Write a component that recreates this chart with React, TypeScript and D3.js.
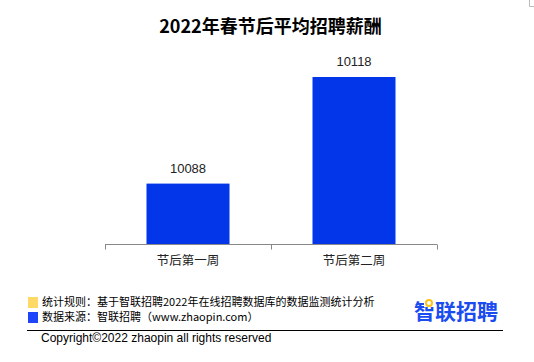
import React from 'react';
import * as d3 from 'd3';

const categories = ['节后第一周', '节后第二周'];
const salaries = [10088, 10118];

const title = '2022年春节后平均招聘薪酬';
const notes = [
  '统计规则：基于智联招聘2022年在线招聘数据库的数据监测统计分析',
  '数据来源：智联招聘（www.zhaopin.com）',
];
const copyright = 'Copyright©2022 zhaopin all rights reserved';

const W = 534;
const H = 362;
const cjk = '"Noto Sans CJK SC", "Noto Sans", sans-serif';
const latin = '"Liberation Sans", Arial, sans-serif';

const App: React.FC = () => {
  const x = d3.scaleBand<string>()
    .domain(categories)
    .range([105, 437])
    .paddingInner(0.5)
    .paddingOuter(0.25);

  // value axis does not start at zero
  const y = d3.scaleLinear()
    .domain([10071, 10118])
    .range([244, 77]);

  const axisY = 244.5;
  const tickXs = [105, 105 + x.step(), 437];

  return (
    <svg width={W} height={H} style={{ position: 'absolute', left: 0, top: 0, background: '#fff' }}>
      {/* corner mark */}
      <path d="M529.5,0 V6.5 H534" fill="none" stroke="#bbb" strokeWidth={1} />

      <text x={270.5} y={33} textAnchor="middle" fontFamily={cjk} fontWeight="bold" fontSize={18} fill="#000">
        {title}
      </text>

      {/* bars */}
      {categories.map((c, i) => (
        <g key={c}>
          <rect
            x={x(c)!}
            y={y(salaries[i])}
            width={x.bandwidth()}
            height={axisY - 0.5 - y(salaries[i])}
            fill="#0336e8"
          />
          <text
            x={x(c)! + x.bandwidth() / 2}
            y={y(salaries[i]) - 11}
            textAnchor="middle"
            fontFamily={latin}
            fontSize={13}
            fill="#222"
          >
            {salaries[i]}
          </text>
          <text
            x={x(c)! + x.bandwidth() / 2}
            y={265}
            textAnchor="middle"
            fontFamily={cjk}
            fontSize={12.5}
            fill="#222"
          >
            {c}
          </text>
        </g>
      ))}

      {/* x axis */}
      <line x1={105} x2={437} y1={axisY} y2={axisY} stroke="#888" />
      {tickXs.map((t) => (
        <line key={t} x1={t + 0.5} x2={t + 0.5} y1={axisY} y2={axisY + 5} stroke="#888" />
      ))}

      {/* footer notes */}
      <rect x={28} y={297} width={10} height={11} fill="#ffd966" />
      <rect x={28} y={312} width={10} height={11} fill="#1f45fa" />
      {notes.map((n, i) => (
        <text key={n} x={42} y={306 + i * 15} fontFamily={cjk} fontSize={11} fill="#000">
          {n}
        </text>
      ))}

      {/* logo */}
      <text x={414} y={319} fontFamily={cjk} fontWeight="bold" fontSize={21} fill="#1a4cf0">
        智联招聘
      </text>
      <rect x={424} y={298} width={10} height={9} fill="#fff" />
      <circle cx={429} cy={303} r={3} fill="none" stroke="#fcc419" strokeWidth={2} />

      <line x1={27} x2={503} y1={330.5} y2={330.5} stroke="#000" strokeWidth={1} />
      <text x={41} y={342} fontFamily={latin} fontSize={12} fill="#000">
        {copyright}
      </text>
    </svg>
  );
};

export default App;
